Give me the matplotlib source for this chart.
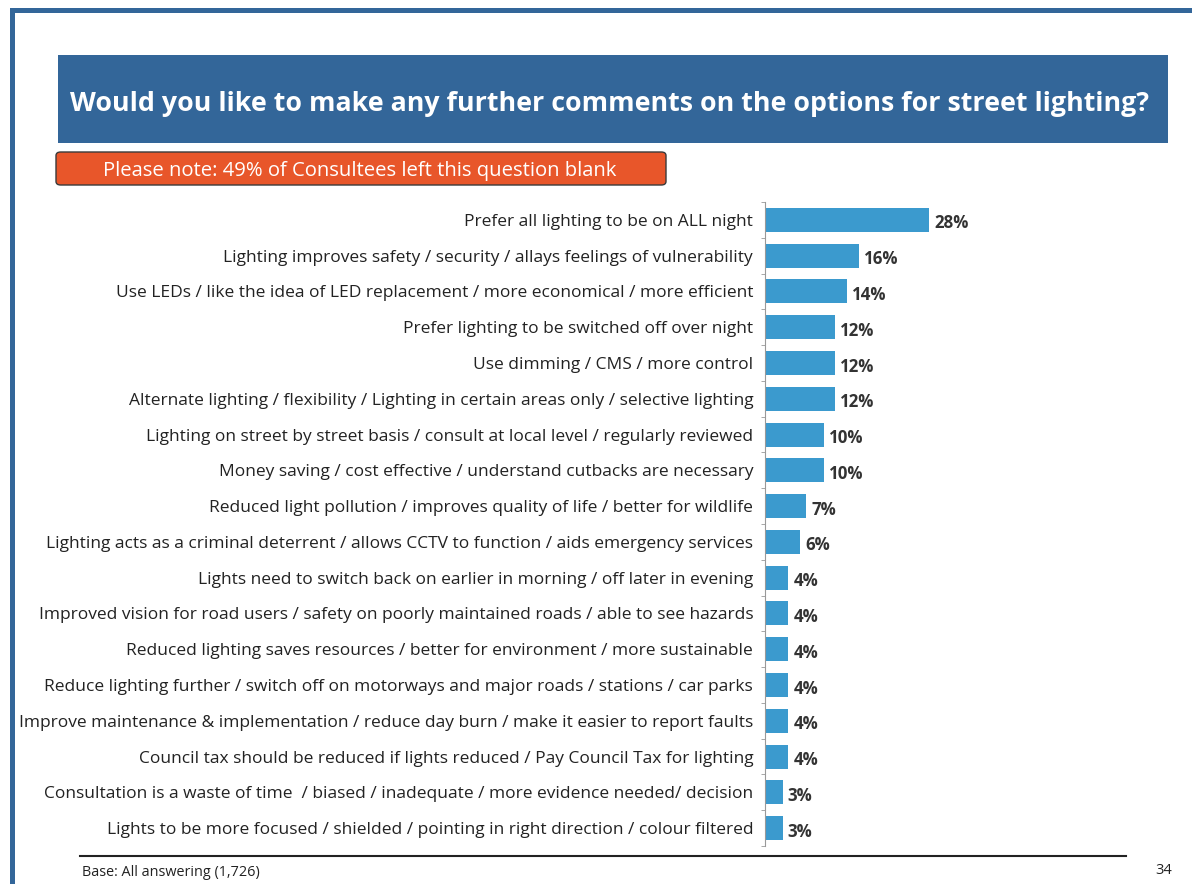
import matplotlib
matplotlib.use("Agg")
import matplotlib.pyplot as plt
from matplotlib.patches import Rectangle, FancyBboxPatch
from matplotlib.lines import Line2D

categories = [
    "Prefer all lighting to be on ALL night",
    "Lighting improves safety / security / allays feelings of vulnerability",
    "Use LEDs / like the idea of LED replacement / more economical / more efficient",
    "Prefer lighting to be switched off over night",
    "Use dimming / CMS / more control",
    "Alternate lighting / flexibility / Lighting in certain areas only / selective lighting",
    "Lighting on street by street basis / consult at local level / regularly reviewed",
    "Money saving / cost effective / understand cutbacks are necessary",
    "Reduced light pollution / improves quality of life / better for wildlife",
    "Lighting acts as a criminal deterrent / allows CCTV to function / aids emergency services",
    "Lights need to switch back on earlier in morning / off later in evening",
    "Improved vision for road users / safety on poorly maintained roads / able to see hazards",
    "Reduced lighting saves resources / better for environment / more sustainable",
    "Reduce lighting further / switch off on motorways and major roads / stations / car parks",
    "Improve maintenance & implementation / reduce day burn / make it easier to report faults",
    "Council tax should be reduced if lights reduced / Pay Council Tax for lighting",
    "Consultation is a waste of time  / biased / inadequate / more evidence needed/ decision",
    "Lights to be more focused / shielded / pointing in right direction / colour filtered",
]
values = [28, 16, 14, 12, 12, 12, 10, 10, 7, 6, 4, 4, 4, 4, 4, 4, 3, 3]

title = "Would you like to make any further comments on the options for street lighting?"
note = "Please note: 49% of Consultees left this question blank"
base_text = "Base: All answering (1,726)"
page_no = "34"

plt.rcParams['font.family'] = ['Open Sans', 'DejaVu Sans']

W, H = 1192, 884
fig = plt.figure(figsize=(W / 100, H / 100), dpi=100)

def fx(x):
    return x / W

def fy(y):
    return 1 - y / H

blue = "#336699"
# page border
fig.add_artist(Rectangle((fx(10), fy(13)), fx(W), 5 / H, transform=fig.transFigure,
                         color=blue, lw=0))
fig.add_artist(Rectangle((fx(10), 0), 5 / W, fy(8), transform=fig.transFigure,
                         color=blue, lw=0))

# title banner
fig.add_artist(Rectangle((fx(58), fy(143)), fx(1168 - 58), 88 / H, transform=fig.transFigure,
                         color=blue, lw=0))
fig.text(fx(70), fy(104), title, color="white", fontsize=19.3, fontweight="bold",
         va="center", ha="left")

# note box
fig.add_artist(FancyBboxPatch((fx(56), fy(185)), fx(666 - 56), 33 / H,
                              boxstyle="round,pad=0,rounding_size=0.004",
                              transform=fig.transFigure, facecolor="#E8562A",
                              edgecolor="#3a3a3a", lw=1))
fig.text(fx(360), fy(171), note, color="white", fontsize=14.6, va="center", ha="center")

# bar chart
ax = fig.add_axes([fx(765), fy(846), fx(360), 644 / H])
y = list(range(len(categories)))
ax.barh(y, values, height=0.67, color="#3B9ACE")
ax.set_xlim(0, 360 / 5.87)
ax.set_ylim(len(categories) - 0.5, -0.5)
ax.set_yticks(y)
ax.set_yticklabels(categories, fontsize=12.5, color="#222222")
ax.set_yticks([i + 0.5 for i in range(-1, len(categories))], minor=True)
ax.tick_params(axis="y", which="major", length=0, pad=8.5)
ax.tick_params(axis="y", which="minor", length=3, color="#999999")
ax.set_xticks([])
for s in ["top", "right", "bottom"]:
    ax.spines[s].set_visible(False)
ax.spines["left"].set_color("#999999")
for i, v in enumerate(values):
    ax.text(v + 0.85, i + 0.1, f"{v}%", va="center", ha="left", fontsize=12.2,
            fontweight="bold", color="#333333")

# footer
fig.add_artist(Line2D([fx(80), fx(1126)], [fy(856), fy(856)], transform=fig.transFigure,
                      color="#222222", lw=1.5))
fig.text(fx(82), fy(873), base_text, fontsize=10.4, color="#222222", va="center", ha="left")
fig.text(fx(1172), fy(871), page_no, fontsize=10.5, color="#222222", va="center", ha="right")

fig.savefig("out.png", dpi=100)
